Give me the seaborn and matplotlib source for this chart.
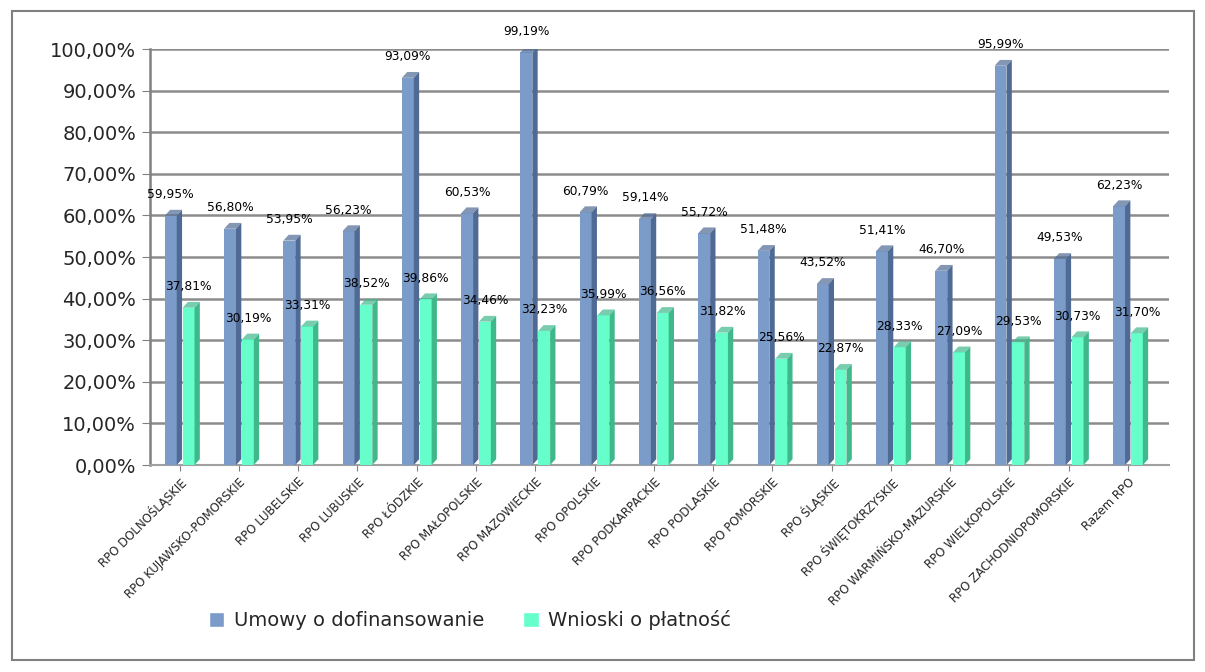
import pandas as pd
import matplotlib
matplotlib.use('Agg')
import matplotlib.pyplot as plt
import seaborn as sns
from matplotlib.patches import Polygon, Rectangle
from matplotlib.ticker import FuncFormatter

# data
programy = ['RPO DOLNOŚLĄSKIE', 'RPO KUJAWSKO-POMORSKIE', 'RPO LUBELSKIE', 'RPO LUBUSKIE',
            'RPO ŁÓDZKIE', 'RPO MAŁOPOLSKIE', 'RPO MAZOWIECKIE', 'RPO OPOLSKIE',
            'RPO PODKARPACKIE', 'RPO PODLASKIE', 'RPO POMORSKIE', 'RPO ŚLĄSKIE',
            'RPO ŚWIĘTOKRZYSKIE', 'RPO WARMIŃSKO-MAZURSKIE', 'RPO WIELKOPOLSKIE',
            'RPO ZACHODNIOPOMORSKIE', 'Razem RPO']
umowy = [59.95, 56.80, 53.95, 56.23, 93.09, 60.53, 99.19, 60.79, 59.14,
         55.72, 51.48, 43.52, 51.41, 46.70, 95.99, 49.53, 62.23]
wnioski = [37.81, 30.19, 33.31, 38.52, 39.86, 34.46, 32.23, 35.99, 36.56,
           31.82, 25.56, 22.87, 28.33, 27.09, 29.53, 30.73, 31.70]
serie = ['Umowy o dofinansowanie', 'Wnioski o płatność']
kolory = ['#7B9BC9', '#66FFCC']
boki = ['#4F6A94', '#3FB98C']

df = pd.DataFrame({
    'program': programy * 2,
    'seria': [serie[0]] * len(programy) + [serie[1]] * len(programy),
    'wartosc': umowy + wnioski,
})

sns.set_style('white')
plt.rcParams['font.family'] = ['DejaVu Sans']

fig = plt.figure(figsize=(12.05, 6.72), dpi=100)
ax = fig.add_axes([0.1245, 0.308, 0.846, 0.619])

sns.barplot(data=df, x='program', y='wartosc', hue='seria', palette=kolory,
            width=0.6, gap=0.33, ax=ax, legend=False, zorder=3, saturation=1)

n = len(programy)
bars = list(ax.patches[:2 * n])

# pseudo 3D side and top faces from the drawn bars
dx, dy = 0.09, 1.4
for i, patch in enumerate(bars):
    k = 0 if i < n else 1
    x0, w, h = patch.get_x(), patch.get_width(), patch.get_height()
    patch.set_linewidth(0)
    side = Polygon([(x0 + w, 0), (x0 + w + dx, dy), (x0 + w + dx, h + dy), (x0 + w, h)],
                   closed=True, facecolor=boki[k], edgecolor='none', zorder=3)
    top = Polygon([(x0, h), (x0 + dx, h + dy), (x0 + w + dx, h + dy), (x0 + w, h)],
                  closed=True, facecolor=boki[k], alpha=0.7, edgecolor='none', zorder=3)
    ax.add_patch(side)
    ax.add_patch(top)

# data labels
for patch in bars:
    h = patch.get_height()
    ax.text(patch.get_x() + patch.get_width() / 2, h + 3.5,
            f'{h:.2f}%'.replace('.', ','), ha='center', va='bottom',
            fontsize=8.8, color='black', zorder=5)

ax.set_ylim(0, 100)
ax.set_xlim(-0.5, n - 0.3)
ax.set_yticks(range(0, 101, 10))
ax.yaxis.set_major_formatter(FuncFormatter(lambda v, p: f'{v:.2f}%'.replace('.', ',')))
ax.tick_params(axis='y', labelsize=14, length=6, color='#808080', direction='out', left=True, pad=4)
ax.tick_params(axis='x', labelsize=8.5, length=4, color='#808080', bottom=True)
ax.set_xticks(range(n))
ax.set_xticklabels(programy, rotation=45, ha='right', rotation_mode='anchor')
ax.grid(axis='y', color='#8C8C8C', linewidth=1.8, zorder=0)
ax.set_xlabel('')
ax.set_ylabel('')
for s in ['top', 'right']:
    ax.spines[s].set_visible(False)
ax.spines['left'].set_color('#808080')
ax.spines['left'].set_linewidth(1.8)
ax.spines['bottom'].set_color('#A0A0A0')
ax.spines['bottom'].set_linewidth(1.5)

# legend
handles = [Rectangle((0, 0), 1, 1, facecolor=c) for c in kolory]
fig.legend(handles, serie, loc='center', bbox_to_anchor=(0.39, 0.077), ncol=2,
           frameon=False, fontsize=14, handlelength=0.8, handleheight=0.8,
           columnspacing=2.0, handletextpad=0.5)

# outer border
fig.patches.append(Rectangle((0.01, 0.018), 0.981, 0.965, transform=fig.transFigure,
                             fill=False, edgecolor='#808080', linewidth=1.5))

plt.savefig('out.png', dpi=100)
plt.close()
